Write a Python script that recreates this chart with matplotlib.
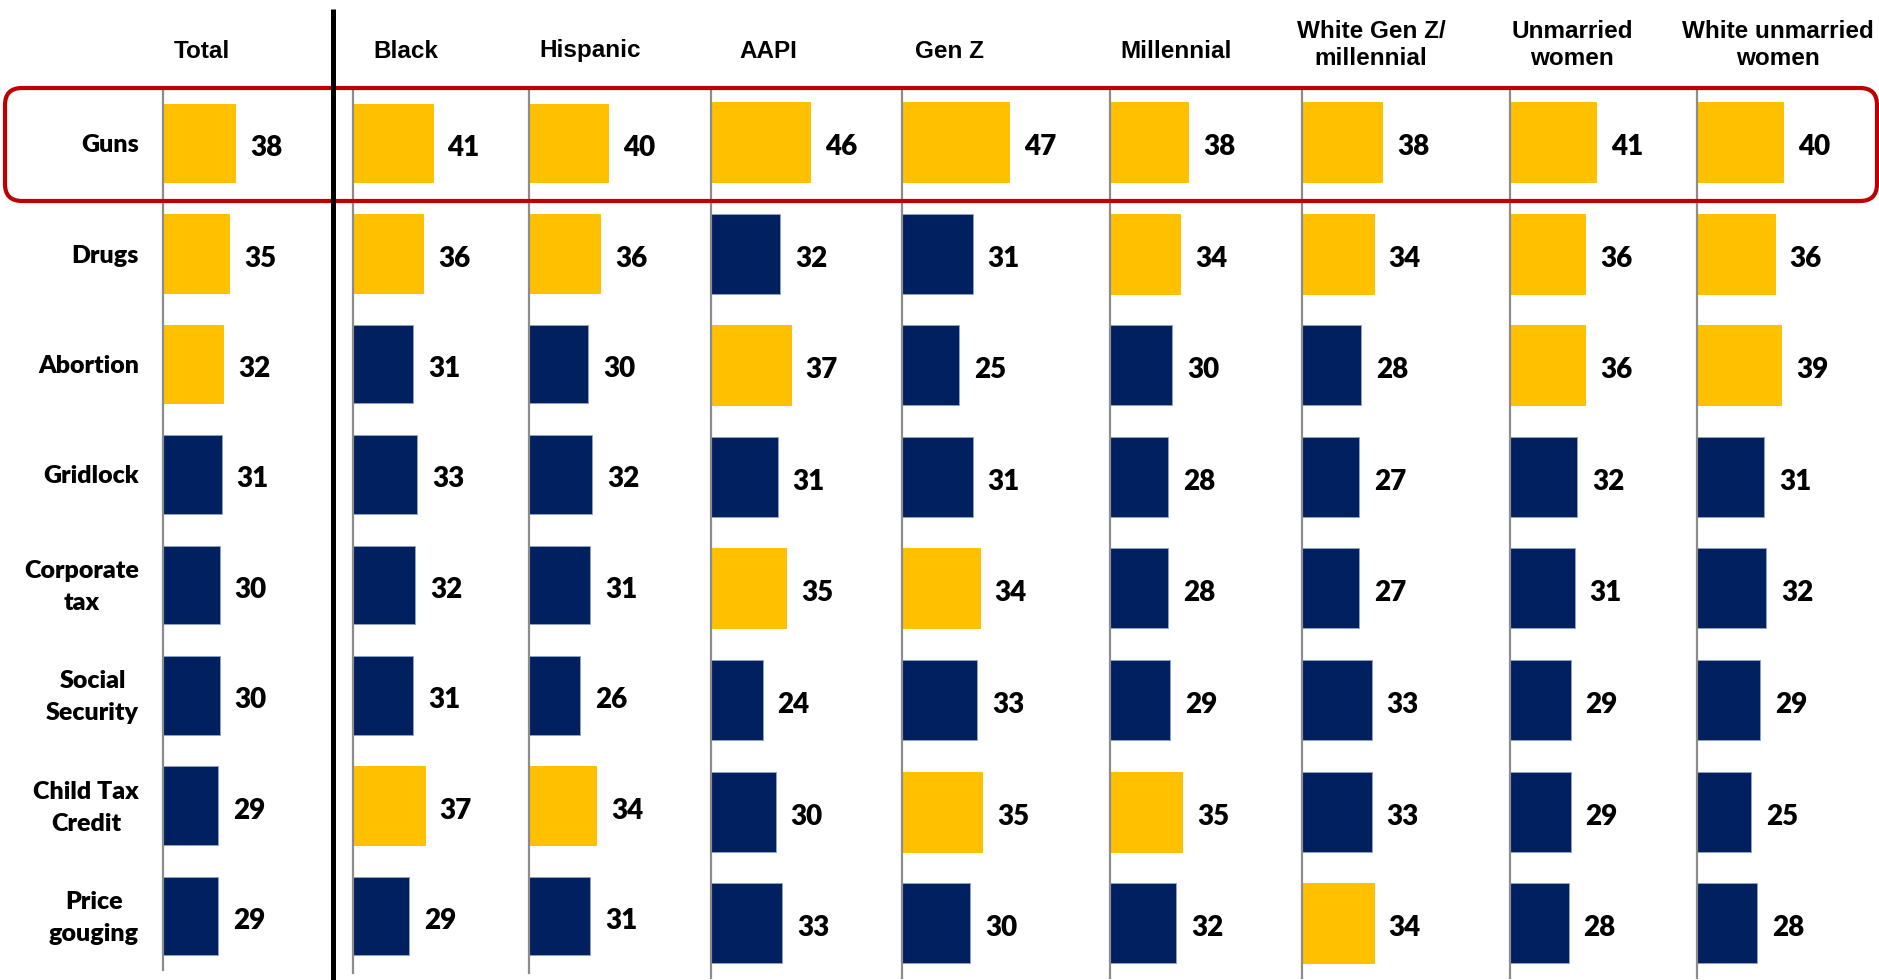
import matplotlib.pyplot as plt
from matplotlib.patches import FancyBboxPatch
import numpy as np

# issue rows and audience groups
categories = ['Guns', 'Drugs', 'Abortion', 'Gridlock', 'Corporate\ntax',
              'Social\nSecurity', 'Child Tax\nCredit', 'Price\ngouging']
groups = ['Total', 'Black', 'Hispanic', 'AAPI', 'Gen Z', 'Millennial',
          'White Gen Z/\nmillennial', 'Unmarried\nwomen', 'White unmarried\nwomen']

total = [38, 35, 32, 31, 30, 30, 29, 29]
black = [41, 36, 31, 33, 32, 31, 37, 29]
hispanic = [40, 36, 30, 32, 31, 26, 34, 31]
aapi = [46, 32, 37, 31, 35, 24, 30, 33]
gen_z = [47, 31, 25, 31, 34, 33, 35, 30]
millennial = [38, 34, 30, 28, 28, 29, 35, 32]
white_genz_mill = [38, 34, 28, 27, 27, 33, 33, 34]
unmarried_women = [41, 36, 36, 32, 31, 29, 29, 28]
white_unmarried_women = [40, 36, 39, 31, 32, 29, 25, 28]

series = [total, black, hispanic, aapi, gen_z, millennial,
          white_genz_mill, unmarried_women, white_unmarried_women]

# layout in pixels (figure is W x H px)
W, H = 1879, 980
panel_left = [163, 353, 529, 711, 902, 1110, 1302, 1510, 1697]
px_per_unit = [1.89, 1.94, 1.98, 2.15, 2.28, 2.06, 2.11, 2.09, 2.16]
header_x = [202, 406, 590, 768, 950, 1176, 1371, 1572, 1778]
first_bar_top = [104, 104, 104, 102, 102, 102, 102, 102, 102]
row_step = [110.4, 110.4, 110.4, 111.6, 111.6, 111.6, 111.6, 111.6, 111.6]
bar_px = [78.5, 78.5, 78.5, 80, 80, 80, 80, 80, 80]
axis_bottom = [970, 973, 973, 978, 978, 978, 978, 978, 978]
axis_top = 88

GOLD = '#FFC000'
NAVY = '#002060'
NAVY_EDGE = '#8EA2C8'
GRAY = '#8C8C8C'
RED = '#C00000'

num_font = 'Lato'
head_font = 'Liberation Sans'

fig = plt.figure(figsize=(W / 100, H / 100), dpi=100)


def add_panel(i, vals, width=150):
    top, bottom = axis_top, axis_bottom[i]
    step = row_step[i]
    c0 = first_bar_top[i] + bar_px[i] / 2
    ax = fig.add_axes([panel_left[i] / W, 1 - bottom / H, width / W, (bottom - top) / H])
    ax.set_xlim(0, width / px_per_unit[i])
    ax.set_ylim((bottom - c0) / step, -(c0 - top) / step)

    y = np.arange(len(vals))
    # top three issues in each group are highlighted
    third = sorted(vals, reverse=True)[2]
    colors = [GOLD if v >= third else NAVY for v in vals]
    edges = [GOLD if v >= third else NAVY_EDGE for v in vals]
    ax.barh(y, vals, height=bar_px[i] / step, color=colors,
            edgecolor=edges, linewidth=0.7)

    for yi, v in zip(y, vals):
        ax.annotate(str(v), (v, yi), xytext=(15, -5), textcoords='offset pixels',
                    ha='left', va='center', fontsize=20, fontweight='heavy',
                    family=num_font, color='black')

    for side in ['top', 'right', 'bottom']:
        ax.spines[side].set_visible(False)
    ax.spines['left'].set_color(GRAY)
    ax.spines['left'].set_linewidth(1.6)
    ax.set_xticks([])
    ax.set_yticks([])
    ax.patch.set_alpha(0)
    return ax


for i, vals in enumerate(series):
    ax = add_panel(i, vals)
    if i == 0:
        for yi, cat in enumerate(categories):
            ax.annotate(cat, (0, yi), xytext=(-24, -2), textcoords='offset pixels',
                        ha='right', va='center', multialignment='center',
                        fontsize=18, fontweight='heavy', family=num_font,
                        linespacing=1.55)
    hy = 45 if '\n' in groups[i] else 51
    fig.text(header_x[i] / W, 1 - hy / H, groups[i], ha='center', va='center',
             multialignment='center', fontsize=17.5, fontweight='bold',
             family=head_font, linespacing=1.25)

# overlay in pixel coordinates for the highlight box and divider
ov = fig.add_axes([0, 0, 1, 1])
ov.set_xlim(0, W)
ov.set_ylim(H, 0)
ov.axis('off')
ov.patch.set_alpha(0)
box = FancyBboxPatch((5, 88), 1872, 113, boxstyle='round,pad=0,rounding_size=17',
                     fill=False, edgecolor=RED, linewidth=3, zorder=3)
ov.add_patch(box)
ov.plot([333, 333], [9, 980], color='black', linewidth=3.6, zorder=4,
        solid_capstyle='butt')

fig.savefig('out.png', dpi=100)
